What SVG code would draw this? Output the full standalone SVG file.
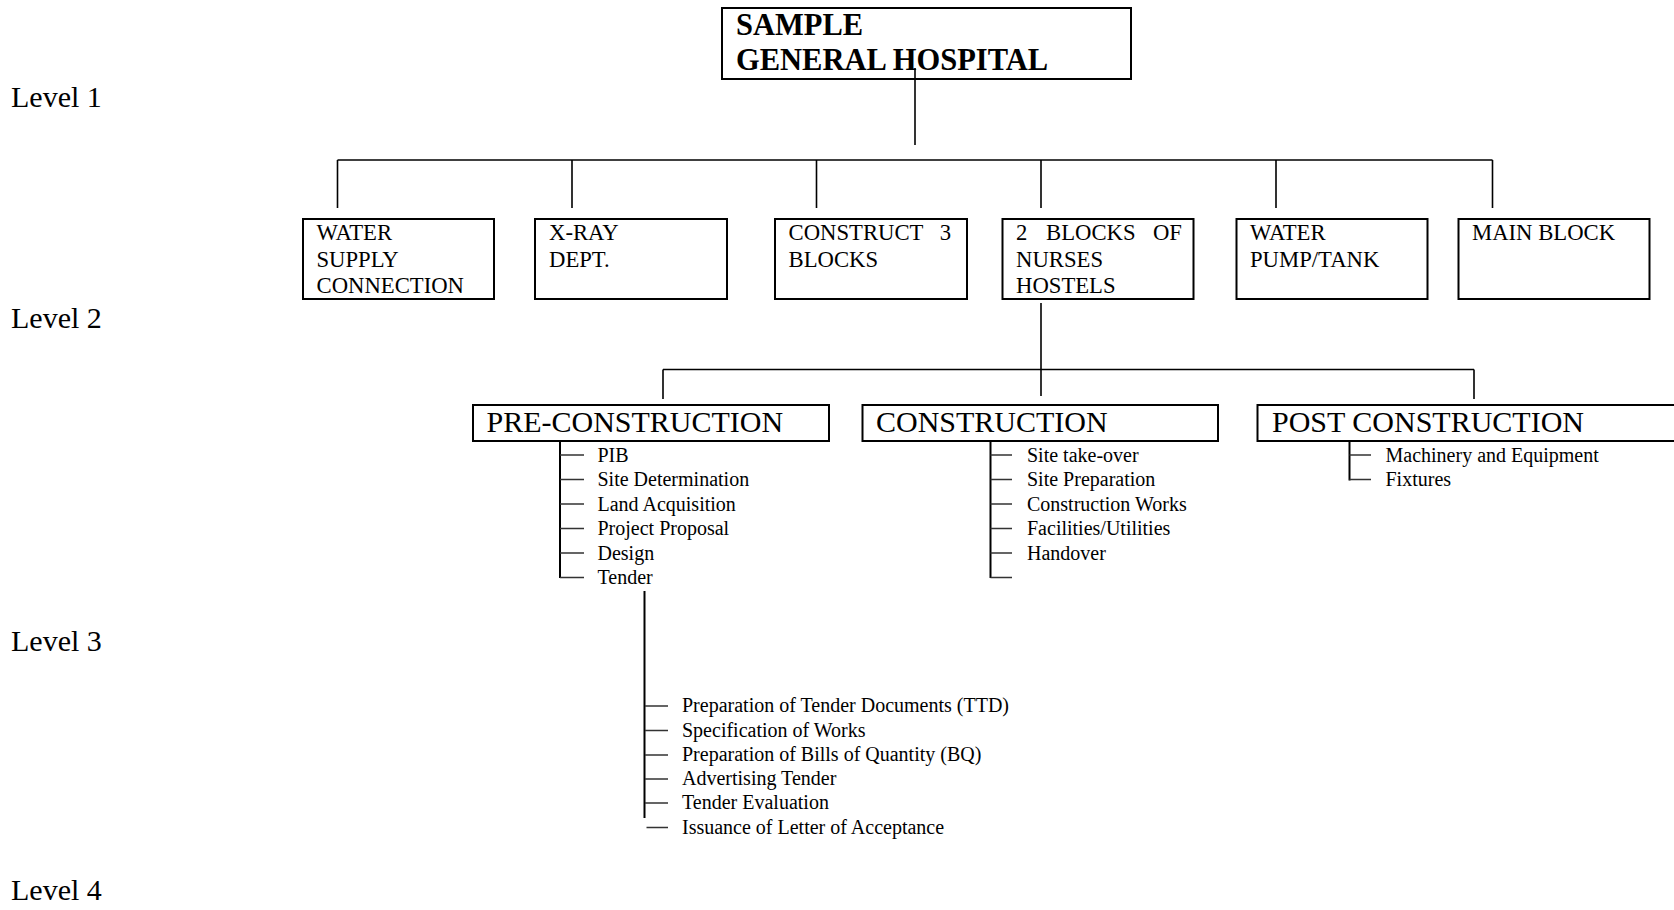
<svg xmlns="http://www.w3.org/2000/svg" width="1674" height="910" viewBox="0 0 1674 910">
  <style>
    text { font-family: "Liberation Serif", "Times New Roman", serif; fill: #000; }
    .title { font-size: 30.5px; font-weight: bold; }
    .lvl { font-size: 30px; }
    .box2 { font-size: 22.7px; }
    .box3 { font-size: 30px; }
    .item { font-size: 20px; }
    .frame { fill: #fff; stroke: #000; stroke-width: 2; }
    .link { fill: none; stroke: #000; stroke-width: 1.6; }
    .spine { fill: none; stroke: #000; stroke-width: 2; }
    .tick { fill: none; stroke: #333; stroke-width: 1.6; }
  </style>
  <rect x="0" y="0" width="1674" height="910" fill="#fff"/>

  <!-- level captions -->
  <g id="levels">
    <text class="lvl" x="11" y="107">Level 1</text>
    <text class="lvl" x="11" y="328">Level 2</text>
    <text class="lvl" x="11" y="651">Level 3</text>
    <text class="lvl" x="11" y="900">Level 4</text>
  </g>

  <!-- root -->
  <g id="hospital">
    <rect class="frame" x="722" y="8" width="409" height="71"/>
    <text class="title" x="736" y="35">SAMPLE</text>
    <text class="title" x="736" y="70">GENERAL HOSPITAL</text>
  </g>

  <!-- level 2 nodes -->
  <g id="water-supply">
    <rect class="frame" x="303" y="219" width="191" height="80"/>
    <text class="box2" x="316.5" y="240">WATER</text>
    <text class="box2" x="316.5" y="266.5">SUPPLY</text>
    <text class="box2" x="316.5" y="293">CONNECTION</text>
  </g>
  <g id="xray">
    <rect class="frame" x="535" y="219" width="192" height="80"/>
    <text class="box2" x="549" y="240">X-RAY</text>
    <text class="box2" x="549" y="266.5">DEPT.</text>
  </g>
  <g id="construct-3-blocks">
    <rect class="frame" x="775" y="219" width="192" height="80"/>
    <text class="box2" x="788.5" y="240">CONSTRUCT</text>
    <text class="box2" x="951" y="240" text-anchor="end">3</text>
    <text class="box2" x="788.5" y="266.5">BLOCKS</text>
  </g>
  <g id="nurses-hostels">
    <rect class="frame" x="1002.5" y="219" width="191" height="80"/>
    <text class="box2" x="1016" y="240">2</text>
    <text class="box2" x="1046" y="240">BLOCKS</text>
    <text class="box2" x="1182" y="240" text-anchor="end">OF</text>
    <text class="box2" x="1016" y="266.5">NURSES</text>
    <text class="box2" x="1016" y="293">HOSTELS</text>
  </g>
  <g id="water-pump">
    <rect class="frame" x="1236.5" y="219" width="191" height="80"/>
    <text class="box2" x="1250" y="240">WATER</text>
    <text class="box2" x="1250" y="266.5">PUMP/TANK</text>
  </g>
  <g id="main-block">
    <rect class="frame" x="1458.5" y="219" width="191" height="80"/>
    <text class="box2" x="1472" y="240">MAIN BLOCK</text>
  </g>

  <!-- level 3 nodes -->
  <g id="pre-construction">
    <rect class="frame" x="473" y="405" width="356" height="36"/>
    <text class="box3" x="486.5" y="431.5">PRE-CONSTRUCTION</text>
  </g>
  <g id="construction">
    <rect class="frame" x="862.5" y="405" width="355.5" height="36"/>
    <text class="box3" x="876" y="431.5">CONSTRUCTION</text>
  </g>
  <g id="post-construction">
    <rect class="frame" x="1257.5" y="405" width="450" height="36"/>
    <text class="box3" x="1272" y="431.5">POST CONSTRUCTION</text>
  </g>

  <!-- connectors -->
  <g id="connectors">
    <!-- root to level 2 -->
    <path class="link" d="M915 68 V145"/>
    <path class="link" d="M337.5 160 H1492.5"/>
    <path class="link" d="M337.5 160 V208 M572 160 V208 M816.5 160 V208 M1041 160 V208 M1276 160 V208 M1492.5 160 V208"/>
    <!-- nurses hostels to level 3 -->
    <path class="link" d="M1041 303 V396"/>
    <path class="link" d="M663 369.5 H1474"/>
    <path class="link" d="M663 369.5 V399 M1474 369.5 V399"/>

    <!-- pre-construction list -->
    <path class="spine" d="M560 441 V578"/>
    <path class="tick" d="M560 455 H584 M560 479.5 H584 M560 504 H584 M560 528.5 H584 M560 553 H584 M560 577.5 H584"/>
    <!-- construction list -->
    <path class="spine" d="M990.5 441 V578"/>
    <path class="tick" d="M990.5 455 H1012 M990.5 479.5 H1012 M990.5 504 H1012 M990.5 528.5 H1012 M990.5 553 H1012 M990.5 577.5 H1012"/>
    <!-- post construction list -->
    <path class="spine" d="M1349.5 441 V480.5"/>
    <path class="tick" d="M1349.5 455 H1371 M1349.5 479.5 H1371"/>
    <!-- tender breakdown -->
    <path class="spine" d="M644.5 591 V818"/>
    <path class="tick" d="M645 706 H668 M645 730.5 H668 M645 755 H668 M645 779 H668 M645 803 H668 M646.5 827.5 H668"/>
  </g>

  <!-- level 3 item lists -->
  <g id="pre-construction-items">
    <text class="item" x="597.5" y="461.5">PIB</text>
    <text class="item" x="597.5" y="486">Site Determination</text>
    <text class="item" x="597.5" y="510.5">Land Acquisition</text>
    <text class="item" x="597.5" y="535">Project Proposal</text>
    <text class="item" x="597.5" y="559.5">Design</text>
    <text class="item" x="597.5" y="584">Tender</text>
  </g>
  <g id="construction-items">
    <text class="item" x="1027" y="461.5">Site take-over</text>
    <text class="item" x="1027" y="486">Site Preparation</text>
    <text class="item" x="1027" y="510.5">Construction Works</text>
    <text class="item" x="1027" y="535">Facilities/Utilities</text>
    <text class="item" x="1027" y="559.5">Handover</text>
  </g>
  <g id="post-construction-items">
    <text class="item" x="1385.5" y="461.5">Machinery and Equipment</text>
    <text class="item" x="1385.5" y="486">Fixtures</text>
  </g>
  <g id="tender-items">
    <text class="item" x="682" y="712">Preparation of Tender Documents (TTD)</text>
    <text class="item" x="682" y="736.5">Specification of Works</text>
    <text class="item" x="682" y="761">Preparation of Bills of Quantity (BQ)</text>
    <text class="item" x="682" y="785">Advertising Tender</text>
    <text class="item" x="682" y="809">Tender Evaluation</text>
    <text class="item" x="682" y="833.5">Issuance of Letter of Acceptance</text>
  </g>
</svg>
